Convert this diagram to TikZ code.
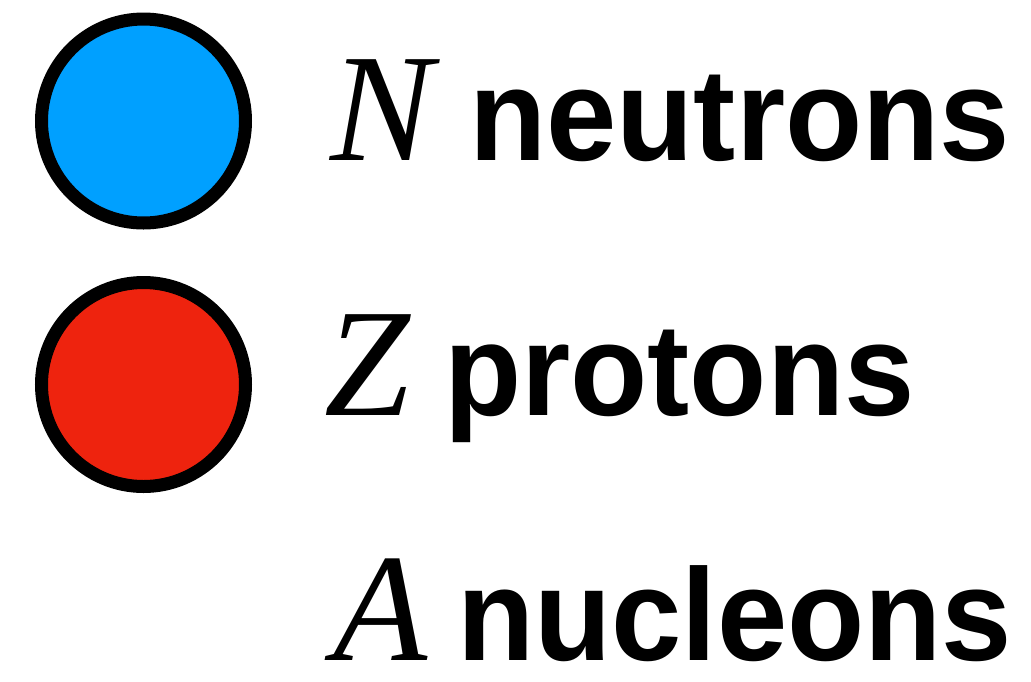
\documentclass[tikz,border=0pt]{standalone}
\usepackage{fontspec}
\newfontfamily\timesf{Liberation Serif}
\newfontfamily\arialf{Liberation Sans}
\definecolor{neutronblue}{RGB}{0,160,255}
\definecolor{protonred}{RGB}{238,35,14}
\begin{document}
\begin{tikzpicture}[x=1pt,y=-1pt,
  ball/.style={circle,draw=black,line width=13pt,minimum size=204pt,inner sep=0pt},
  sym/.style={anchor=base west,inner sep=0pt,font=\timesf\itshape\fontsize{154}{160}\selectfont},
  word/.style={anchor=base west,inner sep=0pt,xscale=0.965,font=\arialf\bfseries\fontsize{131}{140}\selectfont}]
\useasboundingbox (0,0) rectangle (1031,681);
\node[ball,fill=neutronblue] (nb) at (143.5,121) {};
\node[ball,fill=protonred] (pr) at (143.5,384.5) {};
\node[sym] (N) at (330,160) {N};
\node[word] (nt) at (469,160) {neutrons};
\node[sym] (Z) at (324,415) {Z};
\node[word] (pt) at (444,415) {protons};
\node[sym,text depth=0pt] (A) at (333,660) {A};
\node[word,text depth=0pt] (nc) at (457,660) {nucleons};
\end{tikzpicture}
\end{document}
